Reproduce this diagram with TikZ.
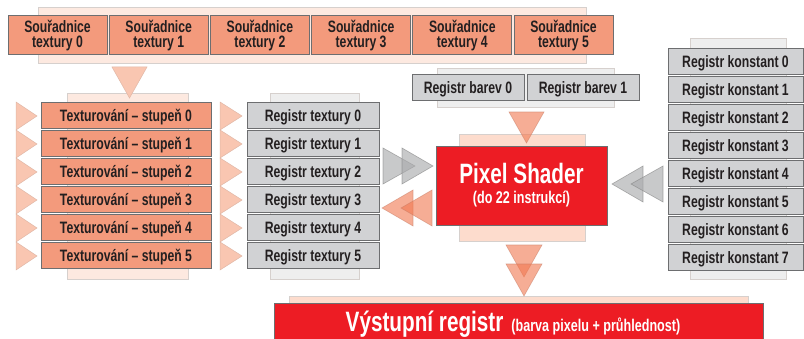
\documentclass[tikz,border=0pt]{standalone}
\usepackage{fontspec}
\newfontfamily\condf{Liberation Sans}[FakeStretch=0.74]
\definecolor{salmon}{HTML}{F39A7C}
\definecolor{boxgray}{HTML}{D1D2D4}
\definecolor{edgegray}{HTML}{6D6E70}
\definecolor{bgpeach}{HTML}{FDE9E0}
\definecolor{bgpeachB}{HTML}{FDDCCD}
\definecolor{bggray}{HTML}{EEEEEE}
\definecolor{bgedge}{HTML}{D6D0CD}
\definecolor{lightpeach}{HTML}{F9C6B1}
\definecolor{trpeach}{RGB}{241,119,79}
\definecolor{trgray}{RGB}{169,170,172}
\definecolor{shred}{HTML}{ED1C24}
\definecolor{txt}{HTML}{231F20}
\tikzset{
  bgrect/.style={draw=bgedge, line width=0.8pt},
  basebox/.style={draw=edgegray, line width=1pt, inner sep=0pt, minimum height=26pt,
    text=txt, font=\condf\bfseries\fontsize{16.5}{16.5}\selectfont, text height=11.8pt, text depth=0pt},
  salbox/.style={basebox, fill=salmon},
  graybox/.style={basebox, fill=boxgray},
  coordbox/.style={draw=edgegray, line width=1pt, inner sep=0pt, fill=salmon, minimum width=99pt,
    minimum height=39pt, align=center, text=txt, font=\condf\bfseries\fontsize{16.5}{15.5}\selectfont},
  redbox/.style={draw=edgegray, line width=1pt, fill=shred, inner sep=0pt},
  lighttri/.style={fill=lightpeach, draw=lightpeach!80!gray, line width=0.5pt},
  peachtri/.style={fill=trpeach, fill opacity=0.6, draw=trpeach!60!gray, draw opacity=0.5, line width=0.6pt},
  graytri/.style={fill=trgray, fill opacity=0.63, draw=gray, draw opacity=0.6, line width=0.6pt},
  whitetext/.style={text=white, inner sep=0pt, font=\condf\bfseries}
}
\begin{document}
\begin{tikzpicture}[x=1pt,y=-1pt]
\useasboundingbox (0,0) rectangle (804,339);
\clip (0,0) rectangle (804,339);
\fill[white] (0,0) rectangle (804,339);

% background rectangles
\draw[bgrect, fill=bgpeach] (38,7) rectangle (586,63);
\draw[bgrect, fill=bgpeach] (67,93) rectangle (188,279);
\draw[bgrect, fill=bggray] (270,93) rectangle (359,279);
\draw[bgrect, fill=bggray] (437,68) rectangle (614,107);
\draw[bgrect, fill=bgpeachB] (459,134) rectangle (585,241);
\draw[bgrect, fill=bggray] (690,38) rectangle (786,279);
\draw[bgrect, fill=bgpeachB] (289,296) rectangle (748,345);

% triangles
\draw[lighttri] (112,67) -- (147,67) -- (129.5,98) -- cycle;
\foreach \i in {0,...,5}{
  \draw[lighttri] (16,102+28*\i) -- (37,116+28*\i) -- (16,130+28*\i) -- cycle;
  \draw[lighttri] (220,102+28*\i) -- (242,116+28*\i) -- (220,130+28*\i) -- cycle;
}
\draw[peachtri] (509,112) -- (544,112) -- (526.5,143) -- cycle;
\draw[graytri] (383,148) -- (415,166) -- (383,184) -- cycle;
\draw[graytri] (402,148) -- (433,166) -- (402,184) -- cycle;
\draw[peachtri] (413,190) -- (382,208) -- (413,226) -- cycle;
\draw[peachtri] (432,190) -- (401,208) -- (432,226) -- cycle;
\draw[graytri] (643,166) -- (612,184) -- (643,202) -- cycle;
\draw[graytri] (663,166) -- (631,184) -- (663,202) -- cycle;
\draw[peachtri] (506,245) -- (542,245) -- (524,277) -- cycle;
\draw[peachtri] (506,264) -- (542,264) -- (524,296) -- cycle;

% coordinate boxes
\foreach \i in {0,...,5}{
  \node[coordbox] (coord\i) at (57.5+101.2*\i,35.5) {Souřadnice\\textury \i};
}
% texturing stages and texture registers
\foreach \i in {0,...,5}{
  \node[salbox, minimum width=170pt] (stage\i) at (126,116+28*\i) {Texturování – stupeň \i};
  \node[graybox, minimum width=132pt] (treg\i) at (313,116+28*\i) {Registr textury \i};
}
% colour registers
\node[graybox, minimum width=112pt] (col0) at (468,88) {Registr barev 0};
\node[graybox, minimum width=112pt] (col1) at (583,88) {Registr barev 1};
% constant registers
\foreach \k in {0,...,7}{
  \node[graybox, minimum width=135pt] (const\k) at (735.5,62+28*\k) {Registr konstant \k};
}
% pixel shader
\node[redbox, minimum width=171pt, minimum height=79pt] (shader) at (521.5,186.5) {};
\node[whitetext, anchor=base, text depth=0pt, font=\condf\bfseries\fontsize{28}{28}\selectfont] (shadertitle) at (521.5,184) {Pixel Shader};
\node[whitetext, anchor=base, text height=11pt, font=\condf\bfseries\fontsize{17}{17}\selectfont] (shadersub) at (521.5,204) {(do 22 instrukcí)};
% output register
\draw[redbox] (274,304) rectangle (763,350);
\node[whitetext, anchor=base] (outtext) at (513,331.5)
  {{\fontsize{28}{28}\selectfont Výstupní registr}\hspace{8pt}{\fontsize{17}{17}\selectfont (barva pixelu + průhlednost)}};
\end{tikzpicture}
\end{document}
